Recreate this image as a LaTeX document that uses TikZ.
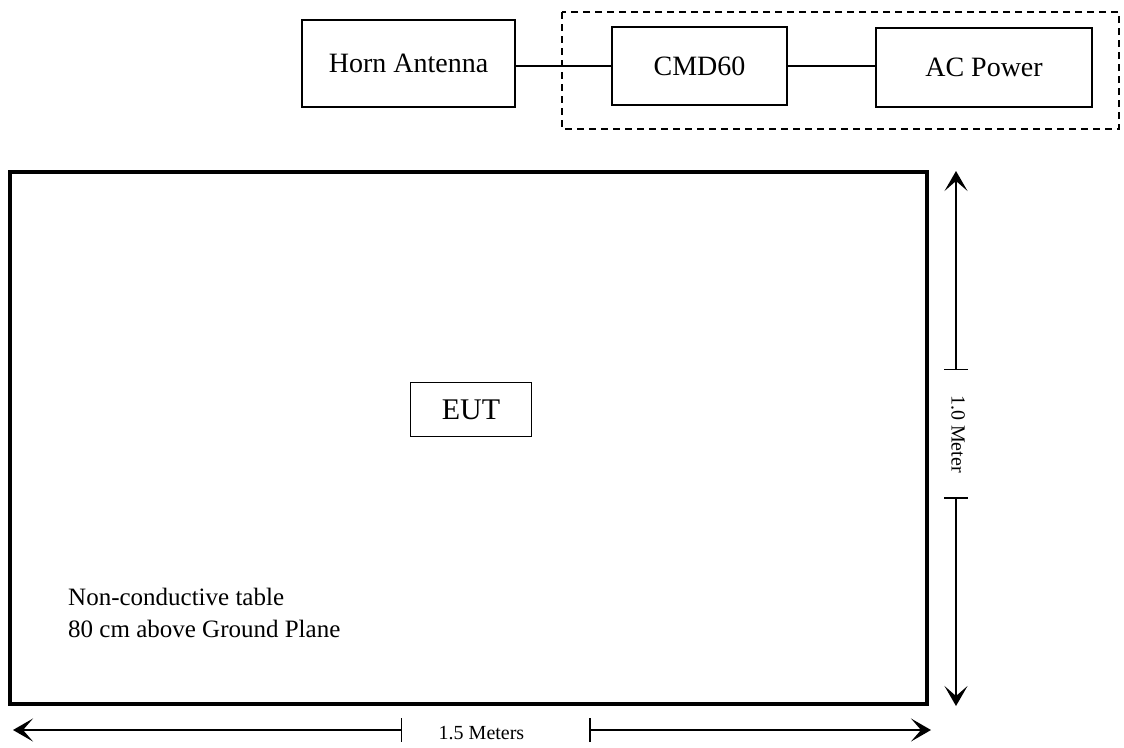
\documentclass[tikz,border=0pt]{standalone}
\usepackage{fontspec}
\setmainfont{Liberation Serif}
\usetikzlibrary{arrows.meta,positioning}

\begin{document}
\begin{tikzpicture}[
  x=1pt, y=-1pt,
  mybox/.style={
    draw,
    line width=1.6pt,
    inner sep=0pt,
    minimum width=#1,
    font=\fontsize{28}{32}\selectfont
    },
  mydim/.style={
    line width=1.5pt,
    {Stealth[length=20pt,width=23pt,inset=10pt]}-{Bar[width=24pt]}
    },
  mydimlabel/.style={
    inner sep=0pt,
    font=\fontsize{20}{24}\selectfont
    }
]
\useasboundingbox (0,0) rectangle (1124,747);

% top row
\node[mybox=213pt, minimum height=87pt] (horn) at (408.5,63.5) {Horn Antenna};
\node[mybox=175pt, minimum height=78pt] (cmd) at (699.5,66) {CMD60};
\node[mybox=216pt, minimum height=79pt] (power) at (984,67.5) {AC Power};
\draw[line width=1.6pt, dash pattern=on 7pt off 5pt] (562,12) rectangle (1119,129);
\draw[line width=1.6pt] (cmd.west -| horn.east) -- (cmd.west);
\draw[line width=1.6pt] (cmd.east) -- (cmd.east -| power.west);

% table
\node[draw, line width=3.4pt, minimum width=917pt, minimum height=532pt, inner sep=0pt]
  (table) at (468.5,438) {};
\node[draw, line width=1.6pt, minimum width=121pt, minimum height=54pt, inner sep=0pt,
  font=\fontsize{30}{34}\selectfont] (eut) at (471,409.5) {EUT};
\node[anchor=north west, inner sep=0pt, align=left, font=\fontsize{25}{32}\selectfont]
  (note) at (68,588) {Non-conductive table\\80 cm above Ground Plane};

% dimensions
\coordinate (wleft) at (13,730);
\coordinate (wtickl) at (402,730);
\coordinate (wtickr) at (589,730);
\coordinate (wright) at (931,730);
\node[mydimlabel, anchor=base] (wlabel) at (481.5,739) {1.5 Meters};
\draw[mydim] (wleft) -- (wtickl);
\draw[mydim] (wright) -- (wtickr);

\coordinate (htop) at (956,171);
\coordinate (hticku) at (956,370);
\coordinate (htickd) at (956,497);
\coordinate (hbottom) at (956,706);
\node[mydimlabel, rotate=-90] (hlabel) at (958,434) {1.0 Meter};
\draw[mydim] (htop) -- (hticku);
\draw[mydim] (hbottom) -- (htickd);
\end{tikzpicture}
\end{document}
